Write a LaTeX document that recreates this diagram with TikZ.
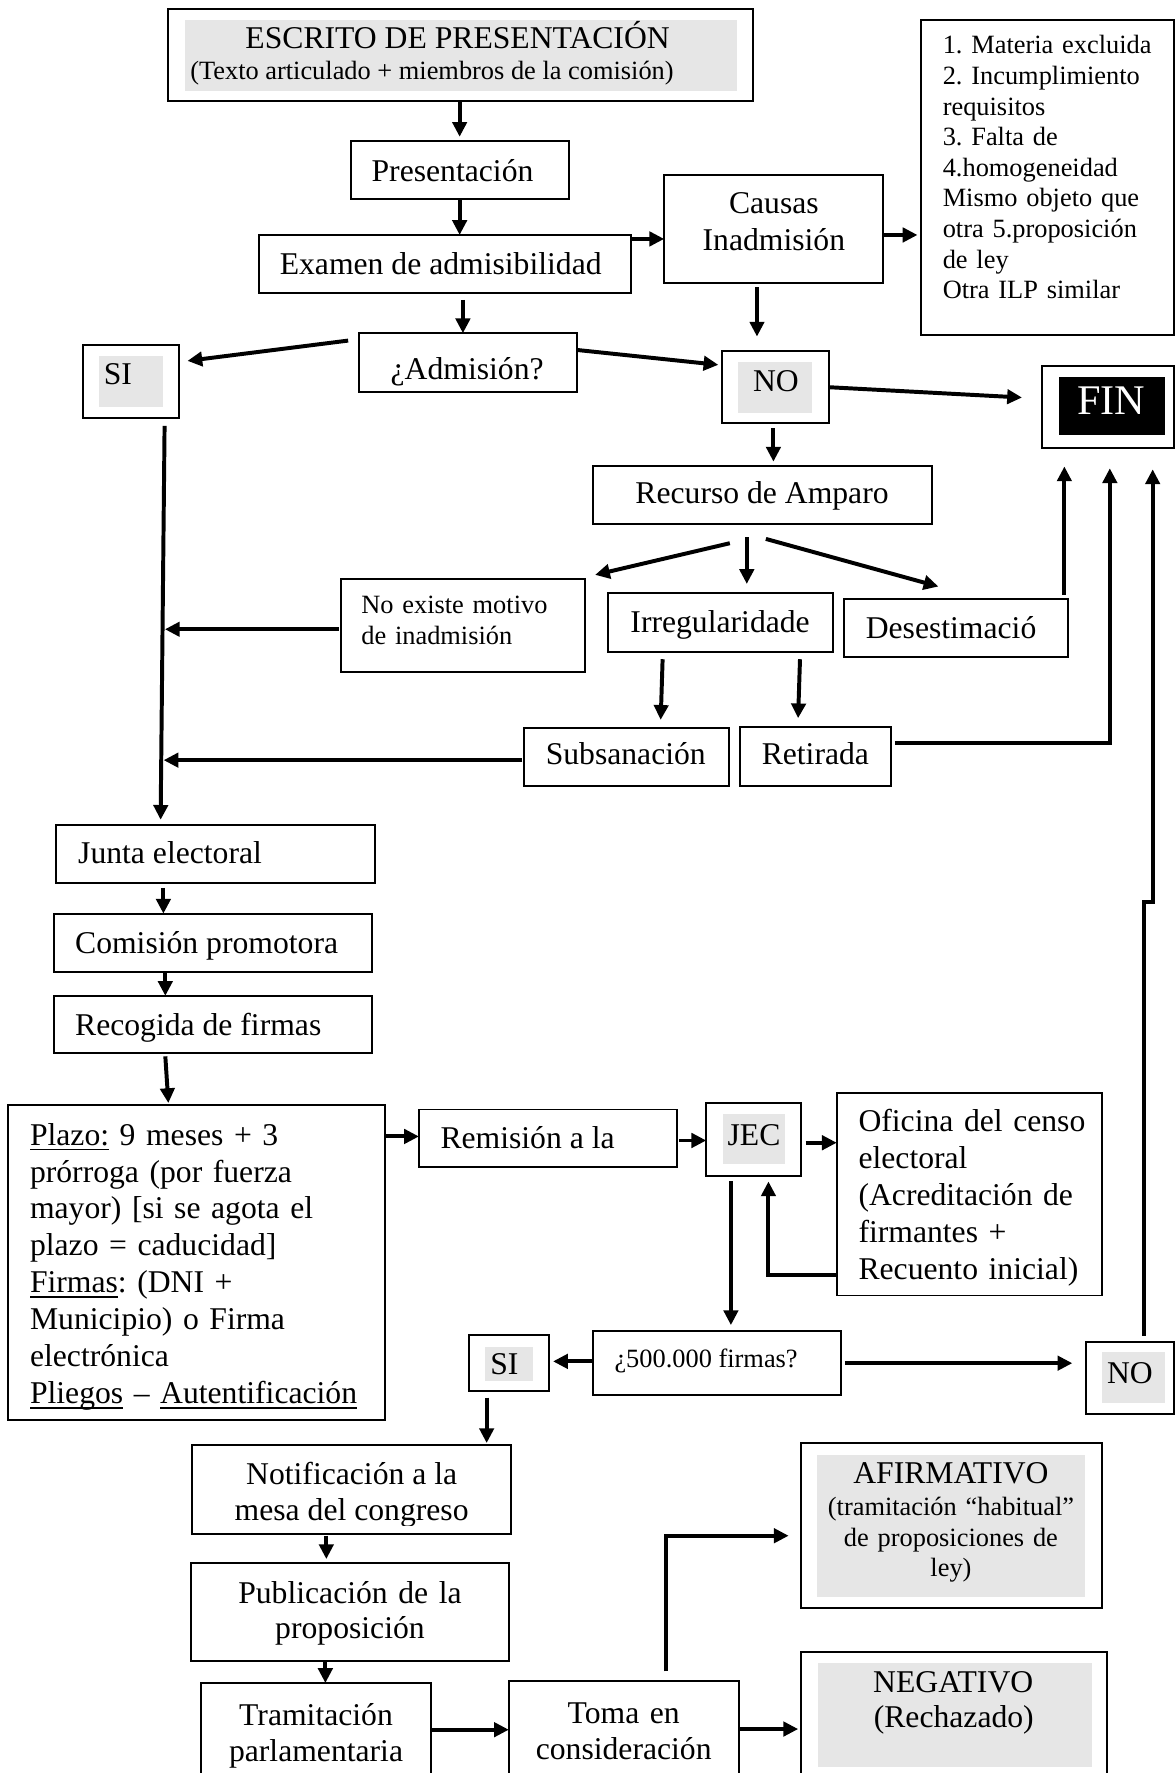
\documentclass[tikz,border=0pt]{standalone}
\usepackage{fontspec}
\setmainfont{Liberation Serif}
\usetikzlibrary{arrows.meta,calc,fit}
\definecolor{shade}{RGB}{230,230,230}
\newcommand\mybox[5]{\node[bx, fit={(#2,#3) (#4,#5)}] (#1) {};}
\newcommand\mygray[5]{\node[gbx, fit={(#2,#3) (#4,#5)}] (#1) {};}
\newcommand\myblack[5]{\node[kbx, fit={(#2,#3) (#4,#5)}] (#1) {};}
\newcommand\myul[1]{\leavevmode{\setbox0\hbox{#1}\rlap{\rule[-1.9pt]{\wd0}{0.6pt}}\box0}}
\frenchspacing
\begin{document}
\frenchspacing
\begin{tikzpicture}[x=0.4286pt,y=-0.4286pt,
  bx/.style={draw, line width=0.75pt, inner sep=0pt, outer sep=0pt},
  gbx/.style={fill=shade, draw=none, inner sep=0pt, outer sep=0pt},
  kbx/.style={fill=black, draw=none, inner sep=0pt, outer sep=0pt},
  arr/.style={line width=1.5pt, -{Triangle[length=5.6pt,width=5.4pt]}},
  t12/.style={font=\fontsize{12}{14}\selectfont\frenchspacing, inner sep=0pt},
  t10/.style={font=\fontsize{10}{11.6}\selectfont\frenchspacing, inner sep=0pt},
]
\clip (0,0) rectangle (1039,1568);
\fill[white] (0,0) rectangle (1039,1568);

% ---------- boxes ----------
\mybox{escrito}{149}{8}{666.2}{89.3}
\mygray{escritoBg}{163.4}{17.7}{651.4}{80.2}
\mybox{pres}{310}{124.7}{503}{176.2}
\mybox{exam}{228.7}{207.8}{558}{259.4}
\mybox{causas}{587.4}{154.7}{781.3}{250.5}
\mybox{list}{814.9}{17.7}{1038.2}{296.5}
\mybox{adm}{317.1}{294.7}{510.3}{346.3}
\mybox{siA}{73.1}{305}{158}{369.3}
\mygray{siAbg}{87.6}{314.8}{143.8}{359.6}
\mybox{noA}{638.7}{310}{733.3}{374.3}
\mygray{noAbg}{653.1}{319.8}{718.5}{364.9}
\mybox{fin}{921.3}{323.3}{1038.2}{396.4}
\myblack{finbg}{936.4}{333}{1030}{384.6}
\mybox{rec}{524.6}{412}{824.3}{463.3}
\mybox{noex}{301.2}{512.3}{517.7}{593.9}
\mybox{irreg}{538.1}{524.6}{736.6}{576.2}
\mybox{deses}{746.7}{529.9}{944.1}{581.2}
\mybox{subs}{463.6}{643.4}{644.7}{694.7}
\mybox{reti}{654.8}{643.1}{788}{694.7}
\mybox{junta}{49.7}{729.8}{331.6}{780.8}
\mybox{comis}{47.4}{808}{328.9}{859.4}
\mybox{recog}{47.4}{880.7}{328.9}{931.4}
\mybox{plazo}{7.4}{977.2}{340.7}{1255.6}
\mybox{remis}{370.5}{981.2}{598.4}{1032.3}
\mybox{jec}{624.6}{975.5}{708.5}{1039.7}
\mygray{jecbg}{639.4}{985}{694}{1029.6}
\mybox{ofic}{740}{967}{974.9}{1145.7}
\mybox{qq}{524.6}{1177.5}{743.7}{1233.6}
\mybox{siB}{414.5}{1180.9}{485.6}{1230}
\mygray{siBbg}{429.1}{1191.4}{471}{1221.5}
\mybox{noB}{960}{1187.2}{1038.2}{1250.6}
\mygray{noBbg}{974.4}{1196}{1030}{1240.9}
\mybox{notif}{170.2}{1278.3}{451.7}{1356.4}
\mybox{publ}{168.5}{1382.3}{450}{1469.3}
\mybox{tram}{177.5}{1488.4}{381.4}{1585}
\mybox{toma}{450}{1486.4}{653.3}{1585}
\mybox{afirm}{708.2}{1276.2}{974.2}{1422.1}
\mygray{afirmbg}{722.6}{1286.5}{959.1}{1412.4}
\mybox{neg}{708}{1461}{979.1}{1585}
\mygray{negbg}{723}{1470.7}{965.3}{1562.7}

% ---------- texts ----------
\node[t12, anchor=base west] (escritoT) at (216.6,42.7) {ESCRITO DE PRESENTACIÓN};
\node[t10, anchor=base west] (escritoS) at (167.8,70.7) {(Texto articulado + miembros de la comisión)};
\node[t12, anchor=base west] (presT) at (328.2,160.6) {Presentación};
\node[t12, anchor=base west] (examT) at (247,243.2) {Examen de admisibilidad};
\node[t12, anchor=base, text width=80pt, align=center, font=\fontsize{12}{14.2}\selectfont] (causasT) at (684.4,188.6) {Causas\\Inadmisión};
\node[t10, anchor=base west, text width=90pt, align=left] (listT) at (833.3,47.6) {1. Materia excluida\\2. Incumplimiento\\requisitos\\3. Falta de\\4.homogeneidad\\Mismo objeto que\\otra 5.proposición\\de ley\\Otra ILP similar};
\node[t12, anchor=base west] (admT) at (345,336) {¿Admisión?};
\node[t12, anchor=base west] (siAT) at (91.4,340.4) {SI};
\node[t12, anchor=base west] (noAT) at (665.5,346.3) {NO};
\node[anchor=base west, inner sep=0pt, font=\fontsize{16}{19}\selectfont, text=white] (finT) at (952,367) {FIN};
\node[t12, anchor=base west] (recT) at (561.5,445.6) {Recurso de Amparo};
\node[t10, anchor=base west, text width=90pt, align=left, font=\fontsize{10}{12}\selectfont\frenchspacing] (noexT) at (319.1,542.3) {No existe motivo\\de inadmisión};
\node[t12, anchor=base west] (irregT) at (557.1,559.4) {Irregularidade};
\node[t12, anchor=base west] (desesT) at (765.2,564.4) {Desestimació};
\node[t12, anchor=base west] (subsT) at (482.2,676.4) {Subsanación};
\node[t12, anchor=base west] (retiT) at (673.2,676.4) {Retirada};
\node[t12, anchor=base west] (juntaT) at (68.7,763.9) {Junta electoral};
\node[t12, anchor=base west] (comisT) at (66,843.5) {Comisión promotora};
\node[t12, anchor=base west] (recogT) at (66,915.6) {Recogida de firmas};
\node[t12, anchor=base west, text width=140pt, align=left] (plazoT) at (26.1,1012.7) {\myul{Plazo:} 9 meses + 3\\prórroga (por fuerza\\mayor) [si se agota el\\plazo = caducidad]\\\myul{Firmas}: (DNI +\\Municipio) o Firma\\electrónica\\\myul{Pliegos} – \myul{Autentificación}};
\node[t12, anchor=base west] (remisT) at (389.1,1015.4) {Remisión a la};
\node[t12, anchor=base west] (jecT) at (643,1012.7) {JEC};
\node[t12, anchor=base west, text width=100pt, align=left] (oficT) at (758.8,1000.8) {Oficina del censo\\electoral\\(Acreditación de\\firmantes +\\Recuento inicial)};
\node[t10, anchor=base west] (qqT) at (543,1209) {¿500.000 firmas?};
\node[t12, anchor=base west] (siBT) at (433.1,1215.7) {SI};
\node[t12, anchor=base west] (noBT) at (978.6,1223.2) {NO};
\node[t12, anchor=base] (notifT1) at (311,1313.1) {Notificación a la};
\begin{scope}
\clip (170,1278) rectangle (452,1349);
\node[t12, anchor=base] (notifT2) at (311,1344.6) {mesa del congreso};
\end{scope}
\node[t12, anchor=base, text width=120pt, align=center, font=\fontsize{12}{13.6}\selectfont] (publT) at (309.5,1417.7) {Publicación de la\\proposición};
\node[t12, anchor=base, text width=90pt, align=center, font=\fontsize{12}{13.7}\selectfont] (tramT) at (279.5,1526) {Tramitación\\parlamentaria};
\node[t12, anchor=base, text width=90pt, align=center, font=\fontsize{12}{13.7}\selectfont] (tomaT) at (551.6,1524) {Toma en\\consideración};
\node[t12, anchor=base] (afirmT) at (841,1311.6) {AFIRMATIVO};
\node[t10, anchor=base, text width=110pt, align=center, font=\fontsize{10}{11.5}\selectfont] (afirmS) at (841,1340.5) {(tramitación “habitual”\\de proposiciones de\\ley)};
\node[t12, anchor=base] (negT) at (843,1496.4) {NEGATIVO};
\node[t12, anchor=base] (negS) at (843.5,1527.4) {(Rechazado)};

% ---------- connectors ----------
\draw[arr, shorten >=1.6pt] (escrito.south -| pres.north) -- (pres.north);
\draw[arr] (pres.south) -- (pres.south |- exam.north);
\path (adm.north) ++(-4.3,0) coordinate (c3e);
\draw[arr, shorten <=2.5pt] (c3e |- exam.south) -- (c3e);
\path (causas.west) ++(0,8.7) coordinate (c4e);
\draw[arr] (c4e -| exam.east) -- (c4e);
\path (causas.east) ++(0,5.2) coordinate (c5s);
\draw[arr, shorten >=1.5pt] (c5s) -- (c5s -| list.west);
\path (causas.south) ++(-14.9,0) coordinate (c6s);
\draw[arr, shorten <=1.5pt, shorten >=5.3pt] (c6s) -- (c6s |- noA.north);
\draw[arr] ($(adm.west)+(-9.2,-19.3)$) -- ($(siA.east)+(7.8,-18)$);
\draw[arr] ($(adm.east)+(0,-11)$) -- ($(noA.west)+(-3.4,-19.5)$);
\draw[arr] ($(noA.east)+(0,0.3)$) -- ($(fin.west)+(-17.5,-8.3)$);
\path (noA.south) ++(-2,0) coordinate (c10s);
\draw[arr, shorten <=1.9pt, shorten >=1.6pt] (c10s) -- (c10s |- rec.north);
\draw[arr] ($(rec.south)+(-29,17.1)$) -- ($(noex.north east)+(8.6,-3.9)$);
\path (rec.south) ++(-14,0) coordinate (c12s);
\draw[arr, shorten <=5pt, shorten >=3.5pt] (c12s) -- (c12s |- irreg.north);
\draw[arr] ($(rec.south)+(2.85,13.3)$) -- ($(deses.north)+(-15.5,-11.2)$);

\path (siA.south) ++(30,7.4) coordinate (mTop);
\path (junta.north) ++(-48.6,-4.8) coordinate (mBot);
\draw[arr] (mTop) -- (mBot);
\path (mTop) -- coordinate[pos=0.512] (m1) coordinate[pos=0.842] (m2) (mBot);
\path (noex.west) ++(-1.7,3.4) coordinate (c14s);
\draw[arr, shorten >=0.9pt] (c14s) -- (c14s -| m1);
\path (subs.west) ++(-1.7,3.2) coordinate (c15s);
\draw[arr, shorten >=0.9pt] (c15s) -- (c15s -| m2);

\draw[arr] ($(irreg.south)+(-51.35,6.8)$) -- ($(subs.north)+(30.15,-6.8)$);
\draw[arr] ($(irreg.south)+(70.15,6.8)$) -- ($(reti.north)+(-15.6,-7.9)$);
\path (deses.north east) ++(-2.8,-3.8) coordinate (c18s);
\draw[arr, shorten >=6.9pt] (c18s) -- (c18s |- fin.south);
\path (reti.east) ++(3.4,-12.2) coordinate (c19s);
\path (fin.south) ++(1.75,0) coordinate (c19e);
\draw[arr, shorten >=7.6pt] (c19s) -| (c19e);
\path (noB.north) ++(12.3,-5.9) coordinate (c20s);
\path (fin.south) ++(39.65,0) coordinate (c20e);
\draw[arr, shorten >=8pt] (c20s) -- ++(0,-383.5) -| (c20e);

\path (junta.south) ++(-46.15,0) coordinate (c21s);
\draw[arr, shorten <=1.9pt] (c21s) -- (c21s |- comis.north);
\path (comis.south) ++(-41.95,0) coordinate (c22s);
\draw[arr] (c22s) -- (c22s |- recog.north);
\draw[arr] ($(recog.south)+(-41.95,2.8)$) -- ($(plazo.north)+(-25.15,-1.7)$);
\path (remis.west) ++(0,-1.7) coordinate (c24e);
\draw[arr] (c24e -| plazo.east) -- (c24e);
\path (jec.west) ++(0,1) coordinate (c25e);
\draw[arr, shorten <=1pt] (c25e -| remis.east) -- (c25e);
\path (jec.east) ++(0,3) coordinate (c26s);
\draw[arr, shorten <=1.7pt] (c26s) -- (c26s -| ofic.west);
\path (ofic.south west) ++(0,-18) coordinate (c27s);
\path (jec.south) ++(13.05,0) coordinate (c27e);
\draw[arr, shorten >=2.2pt] (c27s) -| (c27e);
\path (jec.south) ++(-20.15,0) coordinate (c28s);
\draw[arr, shorten <=2.2pt, shorten >=2.4pt] (c28s) -- (c28s |- qq.north);
\path (qq.west) ++(0,-1.6) coordinate (c29s);
\draw[arr, shorten >=1.5pt] (c29s) -- (c29s -| siB.east);
\draw[arr, shorten <=1.5pt, shorten >=5pt] (qq.east) -- (qq.east -| noB.west);
\path (siB.south) ++(-19.65,0) coordinate (c31s);
\draw[arr, shorten <=2.6pt, shorten >=0.9pt] (c31s) -- (c31s |- notif.north);
\path (notif.south) ++(-22.35,0) coordinate (c32s);
\draw[arr, shorten <=0.7pt, shorten >=1.5pt] (c32s) -- (c32s |- publ.north);
\path (publ.south) ++(-21.5,0) coordinate (c33s);
\draw[arr] (c33s) -- (c33s |- tram.north);
\path (tram.north east) ++(0,41.3) coordinate (c34s);
\draw[arr] (c34s) -- (c34s -| toma.west);
\path (toma.north) ++(37.25,-8.3) coordinate (c35s);
\path (afirm.west) ++(0,9) coordinate (c35e);
\draw[arr, shorten >=4.6pt] (c35s) |- (c35e);
\path (toma.north east) ++(0,42.7) coordinate (c36s);
\draw[arr, shorten >=0.9pt] (c36s) -- (c36s -| neg.west);
\end{tikzpicture}
\end{document}
